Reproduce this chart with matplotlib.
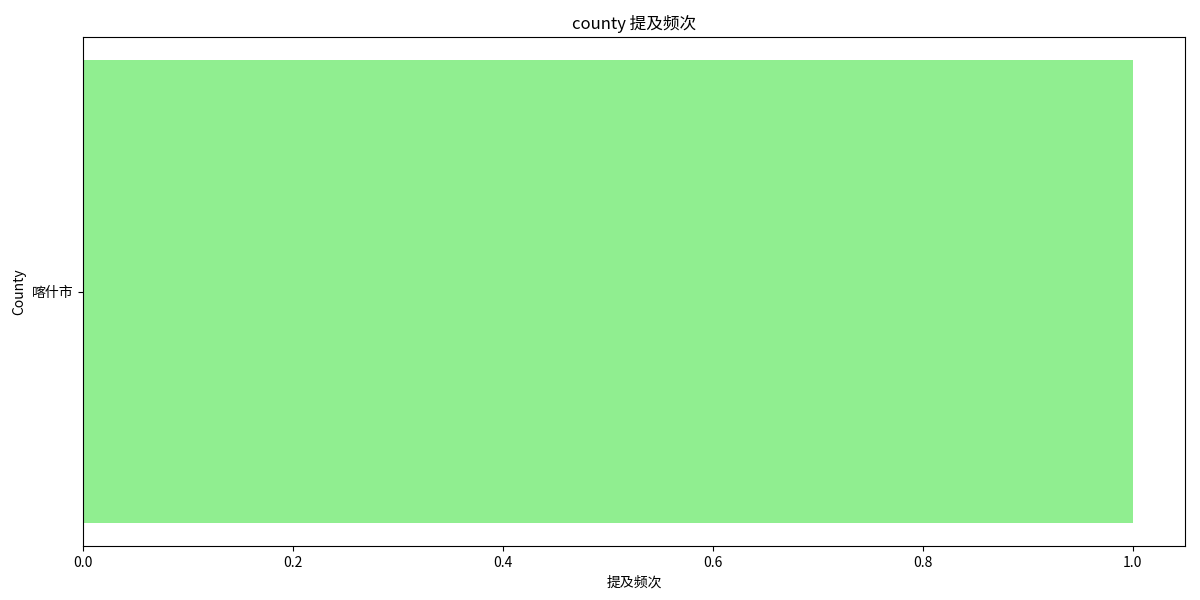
import matplotlib
matplotlib.use("Agg")
import matplotlib.pyplot as plt

plt.rcParams['font.family'] = ['Noto Sans CJK SC', 'DejaVu Sans']
plt.rcParams['axes.unicode_minus'] = False

# data
counties = ['喀什市']
counts = [1]

fig, ax = plt.subplots(figsize=(12, 6), dpi=100)
ax.barh(counties, counts, color='lightgreen')

ax.set_title('county 提及频次')
ax.set_xlabel('提及频次')
ax.set_ylabel('County')

# match the reference's axes box
plt.subplots_adjust(left=0.069, right=0.9875, top=0.938, bottom=0.09)
plt.savefig('out.png')
